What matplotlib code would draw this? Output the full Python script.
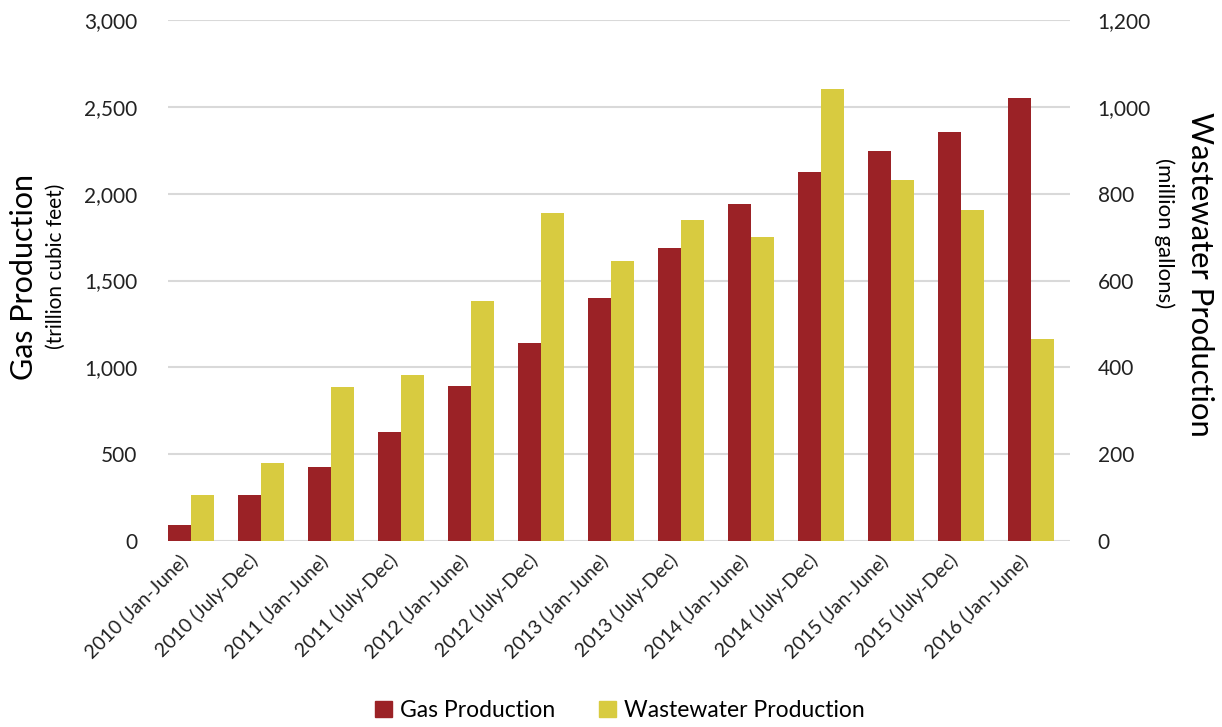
import numpy as np
from matplotlib import pyplot as plt
from matplotlib.patches import Patch
from matplotlib.ticker import FuncFormatter, MultipleLocator
from matplotlib.transforms import ScaledTranslation

periods = [
    "2010 (Jan-June)", "2010 (July-Dec)", "2011 (Jan-June)", "2011 (July-Dec)",
    "2012 (Jan-June)", "2012 (July-Dec)", "2013 (Jan-June)", "2013 (July-Dec)",
    "2014 (Jan-June)", "2014 (July-Dec)", "2015 (Jan-June)", "2015 (July-Dec)",
    "2016 (Jan-June)",
]
gas = [90, 265, 425, 625, 890, 1140, 1400, 1690, 1940, 2125, 2245, 2355, 2550]
wastewater = [105, 180, 355, 382, 552, 755, 645, 740, 700, 1042, 832, 762, 466]

gas_color = "#9b2226"
water_color = "#d8cb40"
font = "Lato"

plt.rcParams["font.family"] = [font, "DejaVu Sans"]

fig = plt.figure(figsize = (12.22, 7.27), dpi = 100)
ax = fig.add_axes([0.1375, 0.2558, 0.738, 0.7167])
ax2 = ax.twinx()

x = np.arange(len(periods))
w = 0.33
ax.bar(x - w / 2, gas, w, color = gas_color, zorder = 3)
ax2.bar(x + w / 2, wastewater, w, color = water_color, zorder = 3)

ax.set_xlim(-0.33, len(periods) - 0.44)
ax.set_ylim(0, 3000)
ax2.set_ylim(0, 1200)
ax.yaxis.set_major_locator(MultipleLocator(500))
ax2.yaxis.set_major_locator(MultipleLocator(200))
thousands = FuncFormatter(lambda v, p: f"{v:,.0f}")
ax.yaxis.set_major_formatter(thousands)
ax2.yaxis.set_major_formatter(thousands)

ax.grid(axis = "y", color = "#d9d9d9", linewidth = 1.5, zorder = 0)
ax.set_axisbelow(True)
for a in (ax, ax2):
    for s in a.spines.values():
        s.set_visible(False)
    a.tick_params(length = 0, labelsize = 15, colors = "#222222")
ax.tick_params(axis = "y", pad = 22)
ax2.tick_params(axis = "y", pad = 20)

ax.set_xticks(x)
ax.set_xticklabels(periods, rotation = 45, ha = "right", va = "center",
                   rotation_mode = "anchor", fontsize = 14)
ax.tick_params(axis = "x", pad = 12)
shift = ScaledTranslation(-0.06, 0, fig.dpi_scale_trans)
for lbl in ax.get_xticklabels():
    lbl.set_transform(lbl.get_transform() + shift)

# axis titles: large name with the unit underneath in smaller type
fig.text(0.020, 0.619, "Gas Production", rotation = 90, fontsize = 22, ha = "center", va = "center")
fig.text(0.046, 0.634, "(trillion cubic feet)", rotation = 90, fontsize = 15, ha = "center", va = "center")
fig.text(0.982, 0.623, "Wastewater Production", rotation = -90, fontsize = 22.3, ha = "center", va = "center")
fig.text(0.953, 0.679, "(million gallons)", rotation = -90, fontsize = 16, ha = "center", va = "center")

handles = [Patch(color = gas_color), Patch(color = water_color)]
fig.legend(
    handles, ["Gas Production", "Wastewater Production"],
    loc = "lower center", bbox_to_anchor = (0.507, -0.02), ncol = 2, frameon = False,
    fontsize = 16.5, handlelength = 0.75, handleheight = 0.75, handletextpad = 0.35, columnspacing = 1.9,
)

plt.savefig("out.png", dpi = 100)
